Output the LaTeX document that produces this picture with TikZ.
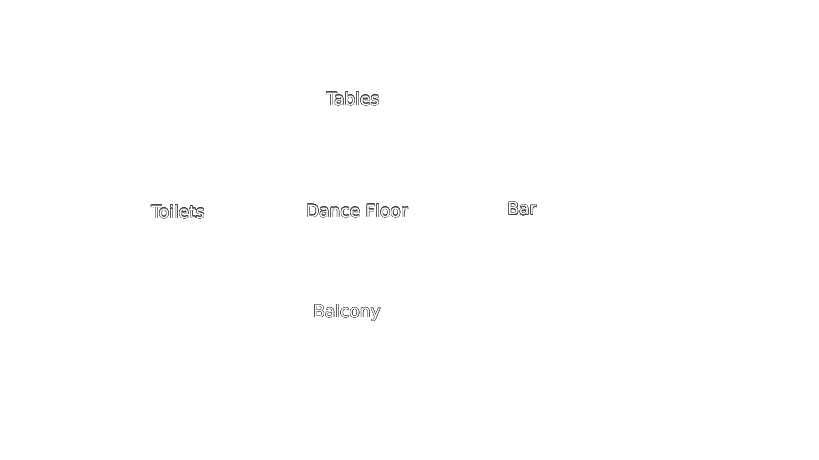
\documentclass[tikz,border=0pt]{standalone}
\usepackage{fontspec}
\setmainfont{DejaVu Sans}
\usepackage{contour}
\contourlength{0.4pt}
\contournumber{16}
\tikzset{lbl/.style={font=\fontsize{17}{20}\selectfont, text=white, inner sep=0pt}}
\newcommand{\olbl}[1]{\contour{black!75}{#1}}
\begin{document}
\begin{tikzpicture}[x=1pt,y=-1pt]
\useasboundingbox[fill=white] (0,0) rectangle (819,460);
\node[lbl] (tables) at (353,99) {\olbl{Tables}};
\node[lbl] (dance) at (357,211) {\olbl{Dance Floor}};
\node[lbl] (toilets) at (178,212) {\olbl{Toilets}};
\node[lbl] (bar) at (522,209) {\olbl{Bar}};
\node[lbl] (balcony) at (347,313) {\olbl{Balcony}};
\end{tikzpicture}
\end{document}
